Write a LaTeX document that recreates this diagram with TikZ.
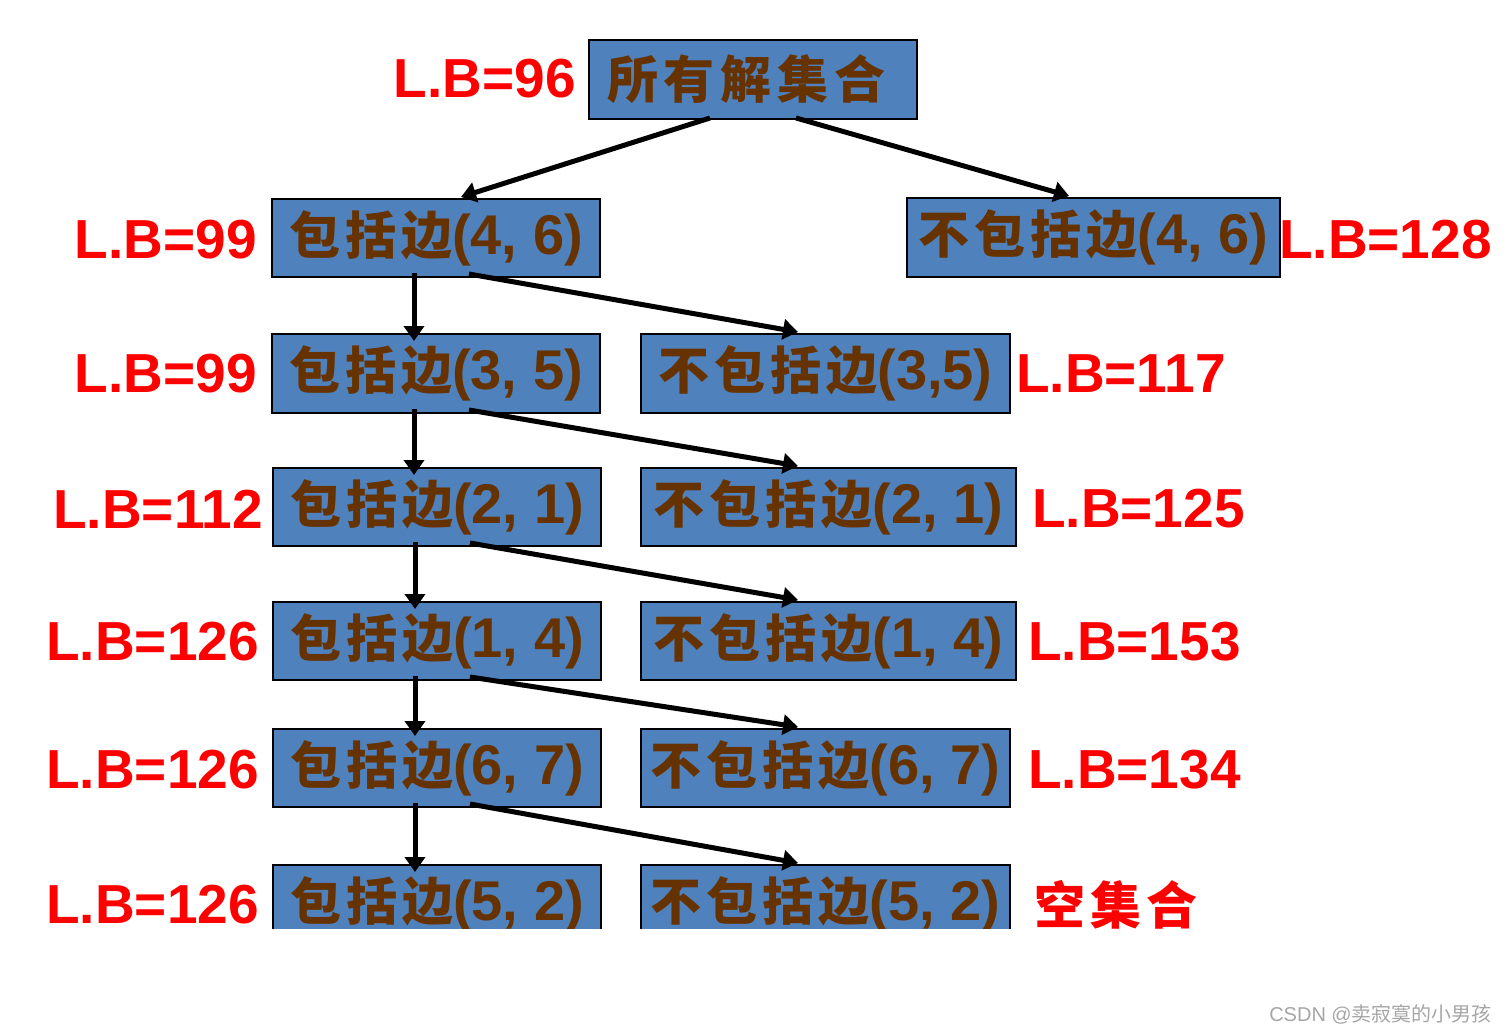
\documentclass[tikz,border=0pt]{standalone}
\usepackage{fontspec}
\setmainfont{Liberation Sans}
\newfontfamily\cjk{Noto Sans CJK SC}
\usetikzlibrary{arrows.meta}
\definecolor{boxblue}{HTML}{4F81BD}
\definecolor{txtbrown}{HTML}{663300}
\definecolor{lbred}{HTML}{FF0000}
\definecolor{wmgray}{HTML}{A6A6A6}
\tikzset{
  x=1pt, y=-1pt,
  box/.style={draw=black, line width=2pt, fill=boxblue, inner sep=0pt,
    text=txtbrown, minimum height=78pt,
    font=\fontsize{56}{56}\selectfont\bfseries},
  lb/.style={text=lbred, inner sep=0pt, font=\fontsize{55}{55}\selectfont\bfseries},
  conn/.style={line width=5pt, -{Triangle[length=15pt,width=20pt]}},
}
\newcommand{\cjt}[1]{{\cjk\bfseries\fontsize{51}{51}\selectfont #1}}
\newcommand{\gp}{\hspace{5pt}}
\begin{document}
\begin{tikzpicture}
\useasboundingbox (0,0) rectangle (1507,1033);
\fill[white] (0,0) rectangle (1507,1033);

\node[box, minimum width=328pt, minimum height=79pt] (T) at (753,79.5) {\cjt{所\hspace{6pt}有\hspace{6pt}解\hspace{6pt}集\hspace{6pt}合}\hspace*{13pt}};
\node[lb, anchor=east] (lT) at (576,79) {L.B=96};

\node[box, minimum width=328pt] (L2) at (436,238) {\cjt{包\gp 括\gp 边}(4, 6)};
\node[box, minimum width=373pt, minimum height=79pt] (R2) at (1093.5,237.5) {\cjt{不\gp 包\gp 括\gp 边}(4, 6)};
\node[lb, anchor=east] (lL2) at (257,240) {L.B=99};
\node[lb, anchor=west] (lR2) at (1279,240) {L.B=128};

\node[box, minimum width=328pt, minimum height=79pt] (L3) at (436,373.5) {\cjt{包\gp 括\gp 边}(3, 5)};
\node[box, minimum width=369pt, minimum height=79pt] (R3) at (825.5,373.5) {\cjt{不\gp 包\gp 括\gp 边}(3,5)};
\node[lb, anchor=east] (lL3) at (257,374) {L.B=99};
\node[lb, anchor=west] (lR3) at (1016,374) {L.B=117};

\node[box, minimum width=328pt] (L4) at (437,507) {\cjt{包\gp 括\gp 边}(2, 1)};
\node[box, minimum width=375pt] (R4) at (828.5,507) {\cjt{不\gp 包\gp 括\gp 边}(2, 1)};
\node[lb, anchor=east] (lL4) at (263,509) {L.B=112};
\node[lb, anchor=west] (lR4) at (1032,509) {L.B=125};

\node[box, minimum width=328pt] (L5) at (437,641) {\cjt{包\gp 括\gp 边}(1, 4)};
\node[box, minimum width=375pt] (R5) at (828.5,641) {\cjt{不\gp 包\gp 括\gp 边}(1, 4)};
\node[lb, anchor=east] (lL5) at (259,642) {L.B=126};
\node[lb, anchor=west] (lR5) at (1028,642) {L.B=153};

\node[box, minimum width=328pt] (L6) at (437,768) {\cjt{包\gp 括\gp 边}(6, 7)};
\node[box, minimum width=369pt] (R6) at (825.5,768) {\cjt{不\gp 包\gp 括\gp 边}(6, 7)};
\node[lb, anchor=east] (lL6) at (259,770) {L.B=126};
\node[lb, anchor=west] (lR6) at (1028,770) {L.B=134};

\begin{scope}
\clip (0,0) rectangle (1507,928);
\node[box, minimum width=328pt] (L7) at (437,904) {\cjt{包\gp 括\gp 边}(5, 2)};
\node[box, minimum width=369pt] (R7) at (825.5,904) {\cjt{不\gp 包\gp 括\gp 边}(5, 2)};
\end{scope}
\node[lb, anchor=east] (lL7) at (259,905) {L.B=126};
\node[text=lbred, inner sep=0pt, anchor=west] (lR7) at (1034,905) {\cjt{空\gp 集\gp 合}};

% connectors
\draw[conn] ([xshift=122pt,yshift=2pt]T.south west) -- ([xshift=190pt,yshift=1pt]L2.north west);
\draw[conn] ([xshift=208pt,yshift=2pt]T.south west) -- ([xshift=163pt,yshift=1pt]R2.north west);

\foreach \a/\b/\c in {L2/L3/R3, L3/L4/R4, L4/L5/R5, L5/L6/R6, L6/L7/R7}{
  \path ([xshift=143pt,yshift=5pt]\a.south west) coordinate (s);
  \path ([yshift=-8pt]\b.north) coordinate (e);
  \draw[conn] (s) -- (s |- e);
  \draw[conn] ([xshift=198pt,yshift=4pt]\a.south west) -- ([xshift=158pt,yshift=1pt]\c.north west);
}

\node[text=wmgray, inner sep=0pt, anchor=east, font=\fontsize{20}{20}\selectfont] (wm) at (1492,1014) {CSDN @{\cjk 卖寂寞的小男孩}};
\end{tikzpicture}
\end{document}
